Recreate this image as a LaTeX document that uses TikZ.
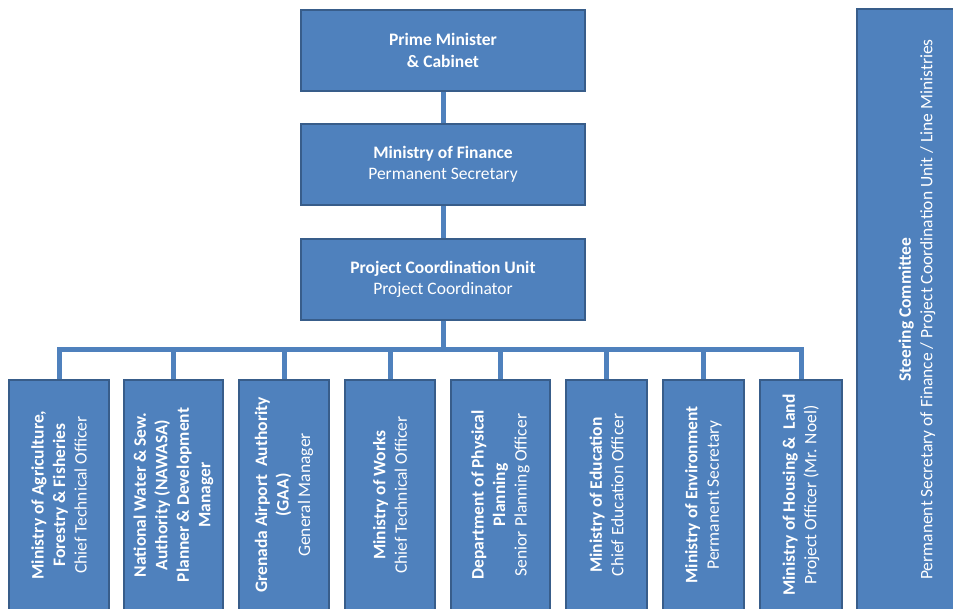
\documentclass[tikz,border=0pt]{standalone}
\usepackage{fontspec}
\setmainfont{Carlito}
\usetikzlibrary{positioning}
\definecolor{orgblue}{RGB}{79,129,189}
\definecolor{orgedge}{RGB}{56,93,138}
\tikzstyle{unit} = [draw=orgedge, line width=1.3pt, fill=orgblue, text=white, align=center, inner sep=2pt, font=\fontsize{17.5}{21.5}\selectfont]
\tikzstyle{topunit} = [unit, minimum width=284pt, minimum height=81pt]
\tikzstyle{lineunit} = [unit, rotate=90, minimum width=230pt]
\tikzstyle{link} = [line width=5pt, color=orgblue]

\begin{document}
\begin{tikzpicture}[x=1pt,y=1pt]
\useasboundingbox (0,0) rectangle (953,609);

% Chain of command
\node[topunit] (pm) at (443,558.5) {\textbf{Prime Minister}\\\textbf{\& Cabinet}};
\node[topunit] (mof) at (443,444.5) {\textbf{Ministry of Finance}\\Permanent Secretary};
\node[topunit] (pcu) at (443,329.5) {\textbf{Project Coordination Unit}\\Project Coordinator};

% Line ministries and agencies
\node[lineunit, minimum height=100pt] (agri) at (59,114) {\textbf{Ministry of Agriculture,}\\\textbf{Forestry \& Fisheries}\\Chief Technical Officer};
\node[lineunit, minimum height=99pt] (nawasa) at (173.5,114) {\textbf{National Water \& Sew.}\\\textbf{Authority (NAWASA)}\\\textbf{Planner \& Development}\\\textbf{Manager}};
\node[lineunit, minimum height=90pt] (gaa) at (284,114) {\textbf{Grenada Airport\ \ Authority}\\\textbf{(GAA)}\\General Manager};
\node[lineunit, minimum height=90pt] (works) at (390,114) {\textbf{Ministry of Works}\\Chief Technical Officer};
\node[lineunit, minimum height=99pt] (dpp) at (500.5,114) {\textbf{Department of Physical}\\\textbf{Planning}\\Senior Planning Officer};
\node[lineunit, minimum height=81pt] (edu) at (606.5,114) {\textbf{Ministry of Education}\\Chief Education Officer};
\node[lineunit, minimum height=81pt] (env) at (703.5,114) {\textbf{Ministry of Environment}\\Permanent Secretary};
\node[lineunit, minimum height=82pt] (housing) at (801,114) {\textbf{Ministry of Housing \&\ \ Land}\\Project Officer (Mr. Noel)};

% Steering committee
\node[unit, rotate=90, minimum width=601pt, minimum height=120pt] (steer) at (917,299.5) {\textbf{Steering Committee}\\Permanent Secretary of Finance / Project Coordination Unit / Line Ministries};

% Connectors
\coordinate (bus) at (443,259);
\draw[link] (pm) -- (mof);
\draw[link] (mof) -- (pcu);
\foreach \n in {agri,nawasa,gaa,works,dpp,edu,env,housing}
  \draw[link] (pcu.south) -- (bus) -| (\n.east);
\end{tikzpicture}
\end{document}
